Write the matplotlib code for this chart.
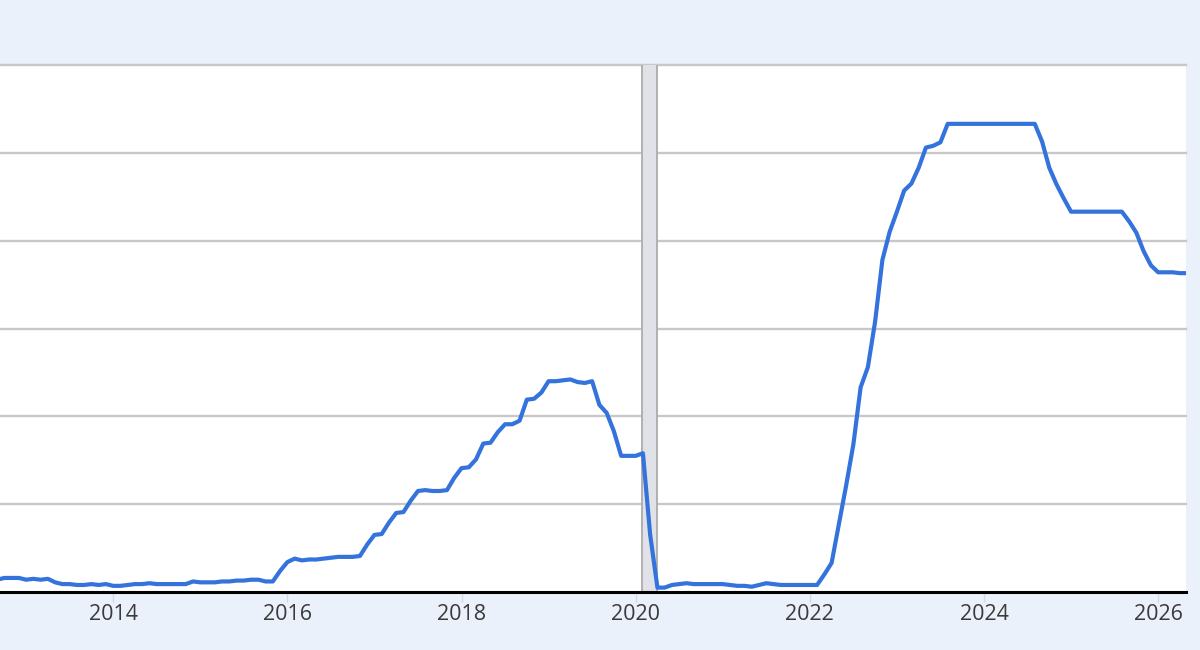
import numpy as np
import pandas as pd
import matplotlib.pyplot as plt

# monthly effective federal funds rate (%), Aug 2012 .. Apr 2026
rate = [
    0.13, 0.14, 0.16, 0.16, 0.16,
    0.14, 0.15, 0.14, 0.15, 0.11, 0.09, 0.09, 0.08, 0.08, 0.09, 0.08, 0.09,
    0.07, 0.07, 0.08, 0.09, 0.09, 0.10, 0.09, 0.09, 0.09, 0.09, 0.09, 0.12,
    0.11, 0.11, 0.11, 0.12, 0.12, 0.13, 0.13, 0.14, 0.14, 0.12, 0.12, 0.24,
    0.34, 0.38, 0.36, 0.37, 0.37, 0.38, 0.39, 0.40, 0.40, 0.40, 0.41, 0.54,
    0.65, 0.66, 0.79, 0.90, 0.91, 1.04, 1.15, 1.16, 1.15, 1.15, 1.16, 1.30,
    1.41, 1.42, 1.51, 1.69, 1.70, 1.82, 1.91, 1.91, 1.95, 2.19, 2.20, 2.27,
    2.40, 2.40, 2.41, 2.42, 2.39, 2.38, 2.40, 2.13, 2.04, 1.83, 1.55, 1.55,
    1.55, 1.58, 0.65, 0.05, 0.05, 0.08, 0.09, 0.10, 0.09, 0.09, 0.09, 0.09,
    0.09, 0.08, 0.07, 0.07, 0.06, 0.08, 0.10, 0.09, 0.08, 0.08, 0.08, 0.08,
    0.08, 0.08, 0.20, 0.33, 0.77, 1.21, 1.68, 2.33, 2.56, 3.08, 3.78, 4.10,
    4.33, 4.57, 4.65, 4.83, 5.06, 5.08, 5.12, 5.33, 5.33, 5.33, 5.33, 5.33,
    5.33, 5.33, 5.33, 5.33, 5.33, 5.33, 5.33, 5.33, 5.13, 4.83, 4.64, 4.48,
    4.33, 4.33, 4.33, 4.33, 4.33, 4.33, 4.33, 4.33, 4.22, 4.09, 3.88, 3.72,
    3.64, 3.64, 3.64, 3.63, 3.63,
]
dates = pd.date_range("2012-08-01", periods=len(rate), freq="MS")
years = dates.year + (dates.month - 1) / 12.0

recession = (2020 + 1 / 12 - 0.01, 2020 + 3 / 12 - 0.01)
xticks = [2014, 2016, 2018, 2020, 2022, 2024, 2026]

bg = "#eaf1fa"
fig = plt.figure(figsize=(12, 6.5), dpi=100, facecolor=bg)
ax = fig.add_axes([0.0, 58 / 650, 1186 / 1200, (592 - 65) / 650])
ax.set_facecolor("white")

for v in range(1, 7):
    ax.axhline(v, color="#c8c8c8", lw=1.7, zorder=1, clip_on=False)

ax.axvspan(recession[0], recession[1], color="#e0e2e7", lw=0, zorder=1.5)
for r in recession:
    ax.axvline(r, color="#b0b0b0", lw=1.4, zorder=1.6)

ax.plot(years, rate, color="#3473dc", lw=3.0, solid_joinstyle="round", zorder=3)

ax.set_xlim(2012.70, 2026.32)
ax.set_ylim(0, 6)
ax.set_yticks([])
ax.set_xticks(xticks)
ax.set_xticklabels([str(t) for t in xticks], fontsize=15.5, color="#3a3a3a",
                   family=["Open Sans", "DejaVu Sans"])
ax.tick_params(axis="x", length=7, width=1, color="#d4d9e0", pad=2)

for s in ["top", "left", "right"]:
    ax.spines[s].set_visible(False)
ax.spines["bottom"].set_color("black")
ax.spines["bottom"].set_linewidth(2.2)
ax.spines["bottom"].set_zorder(4)

fig.savefig("out.png", dpi=100, facecolor=bg)
